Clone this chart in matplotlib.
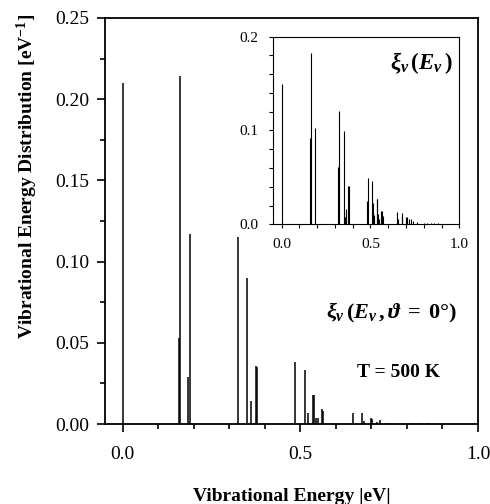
import numpy as np
import matplotlib.pyplot as plt
from matplotlib.ticker import MultipleLocator

plt.rcParams['font.family'] = ['Liberation Serif', 'DejaVu Serif']
plt.rcParams['mathtext.fontset'] = 'custom'
plt.rcParams['mathtext.rm'] = 'Liberation Serif:bold'
plt.rcParams['mathtext.it'] = 'Liberation Serif:italic:bold'
plt.rcParams['mathtext.bf'] = 'Liberation Serif:bold'

# Main panel: distribution at theta = 0 deg (energy in eV, height in 1/eV)
main_E = [0.000, 0.158, 0.162, 0.185, 0.188, 0.324, 0.351, 0.361, 0.374, 0.378,
          0.485, 0.513, 0.522, 0.535, 0.538, 0.543, 0.550, 0.562, 0.565,
          0.647, 0.673, 0.680, 0.699, 0.703, 0.715, 0.725,
          0.750, 0.810, 0.840, 0.860]
main_h = [0.210, 0.053, 0.214, 0.029, 0.117, 0.115, 0.090, 0.014, 0.036, 0.035,
          0.038, 0.033, 0.007, 0.018, 0.018, 0.004, 0.004, 0.009, 0.008,
          0.007, 0.007, 0.002, 0.004, 0.003, 0.0015, 0.0025,
          0.0005, 0.0005, 0.0005, 0.0005]

# Inset: angle-integrated distribution
ins_E = [0.000, 0.158, 0.163, 0.188, 0.319, 0.325, 0.350, 0.357, 0.361, 0.374, 0.378,
         0.480, 0.485, 0.511, 0.517, 0.522, 0.535, 0.538, 0.543, 0.550, 0.562, 0.565, 0.570,
         0.647, 0.652, 0.675, 0.680, 0.699, 0.704, 0.715, 0.728, 0.740,
         0.760, 0.800, 0.820, 0.840, 0.860, 0.880]
ins_h = [0.150, 0.092, 0.183, 0.103, 0.061, 0.121, 0.099, 0.008, 0.016, 0.041, 0.041,
         0.025, 0.049, 0.046, 0.023, 0.010, 0.027, 0.027, 0.011, 0.006, 0.014, 0.014, 0.009,
         0.013, 0.006, 0.012, 0.0085, 0.008, 0.0075, 0.0055, 0.0055, 0.003,
         0.002, 0.0015, 0.0015, 0.0015, 0.001, 0.001]

fig = plt.figure(figsize=(4.9, 5.04), dpi=100)
ax = fig.add_axes([0.2143, 0.1587, 0.7612, 0.8056])
ax.vlines(main_E, 0, main_h, color='k', lw=1.1)
ax.set_xlim(-0.05, 1.0)
ax.set_ylim(0, 0.25)
ax.xaxis.set_major_locator(MultipleLocator(0.5))
ax.xaxis.set_minor_locator(MultipleLocator(0.1))
ax.yaxis.set_major_locator(MultipleLocator(0.05))
ax.yaxis.set_minor_locator(MultipleLocator(0.025))
ax.xaxis.set_major_formatter(plt.FormatStrFormatter('%.1f'))
ax.yaxis.set_major_formatter(plt.FormatStrFormatter('%.2f'))
for s in ax.spines.values():
    s.set_linewidth(1.3)
ax.tick_params(which='major', direction='out', length=5.5, width=1.2, labelsize=14, pad=6)
ax.tick_params(which='minor', direction='out', length=3.5, width=1.2)
ax.tick_params(axis='x', which='major', pad=10)
ax.set_xlabel('Vibrational Energy |eV|', fontsize=14, fontweight='bold', labelpad=18)
fig.text(0.055, 0.65, r'Vibrational Energy Distribution [eV$^{\mathbf{-1}}$]',
         rotation=90, fontsize=14, fontweight='bold', ha='center', va='center')

ax.text(0.945, 0.273, r'$\xi_v\,(E_v\,, \vartheta\;=\;0°)$', transform=ax.transAxes,
        fontsize=16, ha='right', va='center')
ax.text(0.675, 0.126, 'T = 500 K', transform=ax.transAxes,
        fontsize=14, fontweight='bold', ha='left', va='center')

ins = fig.add_axes([0.5565, 0.555, 0.381, 0.3722])
ins.vlines(ins_E, 0, ins_h, color='k', lw=0.8)
ins.set_xlim(-0.05, 1.0)
ins.set_ylim(0, 0.2)
ins.xaxis.set_major_locator(MultipleLocator(0.5))
ins.xaxis.set_minor_locator(MultipleLocator(0.1))
ins.yaxis.set_major_locator(MultipleLocator(0.1))
ins.yaxis.set_minor_locator(MultipleLocator(0.02))
ins.xaxis.set_major_formatter(plt.FormatStrFormatter('%.1f'))
ins.yaxis.set_major_formatter(plt.FormatStrFormatter('%.1f'))
for s in ins.spines.values():
    s.set_linewidth(0.8)
ins.tick_params(which='both', direction='out', length=3, width=0.8, labelsize=11, pad=7)
ins.text(0.965, 0.86, r'$\xi_v\,(E_v\,)$', transform=ins.transAxes,
         fontsize=16.5, ha='right', va='center')

fig.savefig('out.png', dpi=100)
